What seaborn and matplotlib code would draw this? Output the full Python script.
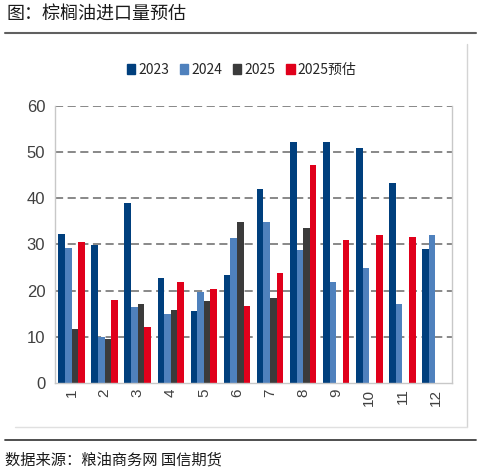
import numpy as np
import pandas as pd
import matplotlib.pyplot as plt
import seaborn as sns
from matplotlib.lines import Line2D
from matplotlib.patches import Patch

months = [str(m) for m in range(1, 13)]
v2023 = [32.2, 29.9, 38.9, 22.7, 15.5, 23.4, 42.0, 52.1, 52.1, 50.8, 43.4, 29.1]
v2024 = [29.3, 9.9, 16.5, 14.9, 19.8, 31.5, 34.8, 28.9, 21.9, 24.8, 17.0, 32.0]
v2025 = [11.8, 9.6, 17.0, 15.8, 17.8, 34.9, 18.4, 33.5, np.nan, np.nan, np.nan, np.nan]
v2025e = [30.6, 17.9, 12.2, 21.9, 20.4, 16.6, 23.8, 47.3, 30.9, 32.0, 31.7, np.nan]

series = ["2023", "2024", "2025", "2025预估"]
colors = ["#003f7d", "#4f81bd", "#3b3b3b", "#e0001b"]

rows = []
for name, vals in zip(series, [v2023, v2024, v2025, v2025e]):
    for m, v in zip(months, vals):
        rows.append({"month": m, "series": name, "value": v})
df = pd.DataFrame(rows)

sns.set_style("white")
plt.rcParams["font.family"] = ["Liberation Sans Narrow", "Liberation Sans", "Noto Sans CJK SC", "DejaVu Sans"]

fig = plt.figure(figsize=(4.82, 4.72), dpi=100)
ax = fig.add_axes([0.1141, 0.1886, 0.8237, 0.5869])

sns.barplot(data=df, x="month", y="value", hue="series", hue_order=series,
            palette=colors, width=0.8, saturation=1, errorbar=None,
            linewidth=0, ax=ax, legend=False)

ax.set_ylim(0, 60)
ax.set_xlim(-0.5, 11.5)
ax.set_yticks(range(0, 61, 10))
for y in range(10, 61, 10):
    ax.axhline(y, color="#7f7f7f", lw=1.3, ls=(0, (4.5, 2.5)), zorder=0)

ax.set_xlabel("")
ax.set_ylabel("")
ax.spines["top"].set_visible(False)
for s in ["left", "bottom", "right"]:
    ax.spines[s].set_color("#c8c8c8")
    ax.spines[s].set_linewidth(1)

ax.set_xticks(range(12))
ax.set_xticklabels(months, rotation=90, fontsize=11, color="#404040",
                   family=["Liberation Sans", "DejaVu Sans"])
ax.set_xticks(np.arange(-0.5, 12, 1), minor=True)
ax.tick_params(axis="x", which="major", length=0, pad=4)
ax.tick_params(axis="x", which="minor", length=4, color="#c8c8c8", width=1, direction="out")
ax.tick_params(axis="y", length=4, color="#c8c8c8", width=1, direction="out",
               labelsize=12, labelcolor="#404040", pad=3)
for lab in ax.get_yticklabels():
    lab.set_family(["Liberation Sans Narrow", "Liberation Sans", "DejaVu Sans"])

handles = [Patch(facecolor=c, edgecolor=c, label=s) for s, c in zip(series, colors)]
leg = ax.legend(handles=handles, ncol=4, frameon=False, loc="center",
                bbox_to_anchor=(0.47, 1.13), fontsize=10, handlelength=0.6,
                handleheight=0.75, handletextpad=0.2, columnspacing=0.8)
for t in leg.get_texts():
    t.set_color("#262626")
    t.set_family(["Liberation Sans Narrow", "Noto Sans CJK SC", "DejaVu Sans"])

# frame and separator lines
fig.add_artist(Line2D([0.01, 0.988], [0.930, 0.930], color="#606060", lw=1.5))
fig.add_artist(Line2D([0.969, 0.969], [0.907, 0.0953], color="#d4d4d4", lw=1))
fig.add_artist(Line2D([0.031, 0.969], [0.0953, 0.0953], color="#e0e0e0", lw=1))
fig.add_artist(Line2D([0.01, 0.988], [0.0678, 0.0678], color="#404040", lw=1.3))

fig.text(0.014, 0.972, "图：棕榈油进口量预估", fontsize=13, color="#1a1a1a",
         va="center", ha="left", family=["Noto Sans CJK SC", "DejaVu Sans"])
fig.text(0.01, 0.026, "数据来源：粮油商务网 国信期货", fontsize=11, color="#1a1a1a",
         va="center", ha="left", family=["Noto Sans CJK SC", "DejaVu Sans"])

fig.savefig("out.png", dpi=100)
